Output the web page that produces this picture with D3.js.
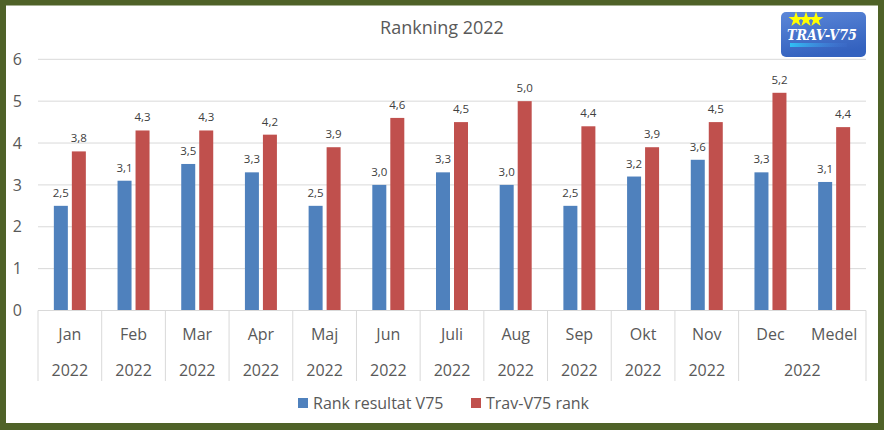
<!DOCTYPE html>
<html lang="sv">
<head>
    <meta charset="UTF-8">
    <title>Rankning 2022</title>
    <script src="https://d3js.org/d3.v7.min.js"></script>
    <style>
        body {
            margin: 0;
            font-family: "Open Sans", "Noto Sans", sans-serif;
            background: #fff;
        }
        svg { display: block; }
    </style>
</head>
<body>
    <svg id="chart" width="884" height="430"></svg>

    <script>
        // Chart data
        const categories = ["Jan", "Feb", "Mar", "Apr", "Maj", "Jun", "Juli", "Aug", "Sep", "Okt", "Nov", "Dec", "Medel"];
        const rankResultat = [2.5, 3.1, 3.5, 3.3, 2.5, 3.0, 3.3, 3.0, 2.5, 3.2, 3.6, 3.3, 3.07];
        const travRank = [3.8, 4.3, 4.3, 4.2, 3.9, 4.6, 4.5, 5.0, 4.4, 3.9, 4.5, 5.2, 4.38];
        const seriesNames = ["Rank resultat V75", "Trav-V75 rank"];
        const groupLabels = ["2022", "2022", "2022", "2022", "2022", "2022", "2022", "2022", "2022", "2022", "2022", "2022"];
        const groupSizes = [1, 1, 1, 1, 1, 1, 1, 1, 1, 1, 1, 2];
        const yTicks = [0, 1, 2, 3, 4, 5, 6];

        const colors = ["#4f81bd", "#c0504d"];
        const textColor = "#595959";
        const plot = { left: 38, right: 866, top: 59.3, bottom: 310.5 };

        const svg = d3.select("#chart");

        // Frame
        svg.append("rect")
           .attr("x", 3).attr("y", 2.5)
           .attr("width", 884 - 6).attr("height", 430 - 6)
           .attr("fill", "#fff")
           .attr("stroke", "#4f6228")
           .attr("stroke-width", 6);
        svg.append("rect")
           .attr("x", 0).attr("y", 423)
           .attr("width", 884).attr("height", 7)
           .attr("fill", "#4f6228");

        // Scales
        const x0 = d3.scaleBand()
                     .domain(categories)
                     .range([plot.left, plot.right])
                     .padding(0);

        const x1 = d3.scaleBand()
                     .domain(seriesNames)
                     .range([x0.bandwidth() / 2 - 16, x0.bandwidth() / 2 + 16])
                     .paddingInner(4 / 18);

        const y = d3.scaleLinear()
                    .domain([0, 6])
                    .range([plot.bottom, plot.top]);

        // Gridlines
        svg.append("g")
           .selectAll("line")
           .data(yTicks.slice(1))
           .join("line")
           .attr("x1", plot.left).attr("x2", plot.right)
           .attr("y1", d => y(d)).attr("y2", d => y(d))
           .attr("stroke", "#d9d9d9")
           .attr("stroke-width", 1);

        // Y axis labels
        svg.append("g")
           .selectAll("text")
           .data(yTicks)
           .join("text")
           .attr("x", 22)
           .attr("y", d => y(d))
           .attr("dy", "0.35em")
           .attr("text-anchor", "end")
           .attr("fill", textColor)
           .style("font-size", "16px")
           .text(d => d);

        // Bars
        const data = categories.map((c, i) => ({ cat: c, values: [rankResultat[i], travRank[i]] }));
        const groups = svg.append("g")
           .selectAll("g")
           .data(data)
           .join("g")
           .attr("transform", d => `translate(${x0(d.cat)},0)`);

        groups.selectAll("rect")
              .data(d => d.values.map((v, j) => ({ name: seriesNames[j], value: v, idx: j })))
              .join("rect")
              .attr("x", d => x1(d.name))
              .attr("y", d => y(d.value))
              .attr("width", x1.bandwidth())
              .attr("height", d => y(0) - y(d.value))
              .attr("fill", d => colors[d.idx]);

        // Data labels
        const fmt = v => d3.format(".1f")(v).replace(".", ",");
        groups.selectAll("text")
              .data(d => d.values.map((v, j) => ({ name: seriesNames[j], value: v })))
              .join("text")
              .attr("x", d => x1(d.name) + x1.bandwidth() / 2)
              .attr("y", d => y(d.value) - 9)
              .attr("text-anchor", "middle")
              .attr("fill", "#404040")
              .style("font-size", "11.5px")
              .text(d => fmt(d.value));

        // Category axis (two levels)
        const axis = svg.append("g");
        const axisBottom = 381;
        axis.append("line")
            .attr("x1", plot.left).attr("x2", plot.right)
            .attr("y1", plot.bottom).attr("y2", plot.bottom)
            .attr("stroke", "#d9d9d9");

        // separators at group boundaries
        let start = 0;
        const bounds = [0];
        groupSizes.forEach(s => { start += s; bounds.push(start); });
        axis.selectAll(".sep")
            .data(bounds)
            .join("line")
            .attr("class", "sep")
            .attr("x1", i => i < categories.length ? x0(categories[i]) : plot.right)
            .attr("x2", i => i < categories.length ? x0(categories[i]) : plot.right)
            .attr("y1", plot.bottom).attr("y2", axisBottom)
            .attr("stroke", "#d9d9d9");

        axis.selectAll(".month")
            .data(categories)
            .join("text")
            .attr("class", "month")
            .attr("x", d => x0(d) + x0.bandwidth() / 2)
            .attr("y", 334)
            .attr("dy", "0.35em")
            .attr("text-anchor", "middle")
            .attr("fill", textColor)
            .style("font-size", "16px")
            .text(d => d);

        axis.selectAll(".year")
            .data(groupLabels)
            .join("text")
            .attr("class", "year")
            .attr("x", (d, i) => (x0(categories[bounds[i]]) + x0(categories[bounds[i + 1] - 1]) + x0.bandwidth()) / 2)
            .attr("y", 370)
            .attr("dy", "0.35em")
            .attr("text-anchor", "middle")
            .attr("fill", textColor)
            .style("font-size", "16px")
            .text(d => d);

        // Title
        svg.append("text")
           .attr("x", 442)
           .attr("y", 28)
           .attr("dy", "0.35em")
           .attr("text-anchor", "middle")
           .attr("fill", textColor)
           .style("font-size", "18px")
           .text("Rankning 2022");

        // Legend
        const legendX = [298, 471];
        const legend = svg.append("g")
           .selectAll("g")
           .data(seriesNames)
           .join("g")
           .attr("transform", (d, i) => `translate(${legendX[i]},398)`);
        legend.append("rect")
              .attr("width", 10).attr("height", 10)
              .attr("fill", (d, i) => colors[i]);
        legend.append("text")
              .attr("x", 15).attr("y", 5)
              .attr("dy", "0.35em")
              .attr("fill", textColor)
              .style("font-size", "16px")
              .text(d => d);

        // Logo
        const defs = svg.append("defs");
        const grad = defs.append("linearGradient")
           .attr("id", "logoGrad").attr("x1", 0).attr("y1", 0).attr("x2", 0.3).attr("y2", 1);
        grad.append("stop").attr("offset", "0%").attr("stop-color", "#5b87d8");
        grad.append("stop").attr("offset", "100%").attr("stop-color", "#3462bf");
        const stripe = defs.append("linearGradient")
           .attr("id", "stripeGrad").attr("x1", 0).attr("y1", 0).attr("x2", 1).attr("y2", 0);
        stripe.append("stop").attr("offset", "0%").attr("stop-color", "#2fc0f5");
        stripe.append("stop").attr("offset", "100%").attr("stop-color", "#4a7fe0").attr("stop-opacity", 0.1);

        const logo = svg.append("g").attr("transform", "translate(781,12)");
        logo.append("rect")
            .attr("width", 85).attr("height", 45)
            .attr("rx", 5)
            .attr("fill", "url(#logoGrad)");
        const star = d3.symbol().type(d3.symbolStar).size(70);
        [15, 25, 35].forEach(sx => {
            logo.append("path")
                .attr("d", star())
                .attr("transform", `translate(${sx},7.5)`)
                .attr("fill", "#ffff00");
        });
        logo.append("text")
            .attr("x", 41).attr("y", 28)
            .attr("text-anchor", "middle")
            .attr("fill", "#fff")
            .style("font-family", "'DejaVu Serif', serif")
            .style("font-weight", "bold")
            .style("font-style", "italic")
            .style("font-size", "14px")
            .attr("textLength", 70)
            .attr("lengthAdjust", "spacingAndGlyphs")
            .text("TRAV-V75");
        logo.append("rect")
            .attr("x", 9).attr("y", 31)
            .attr("width", 57).attr("height", 4)
            .attr("fill", "url(#stripeGrad)");
    </script>
</body>
</html>
